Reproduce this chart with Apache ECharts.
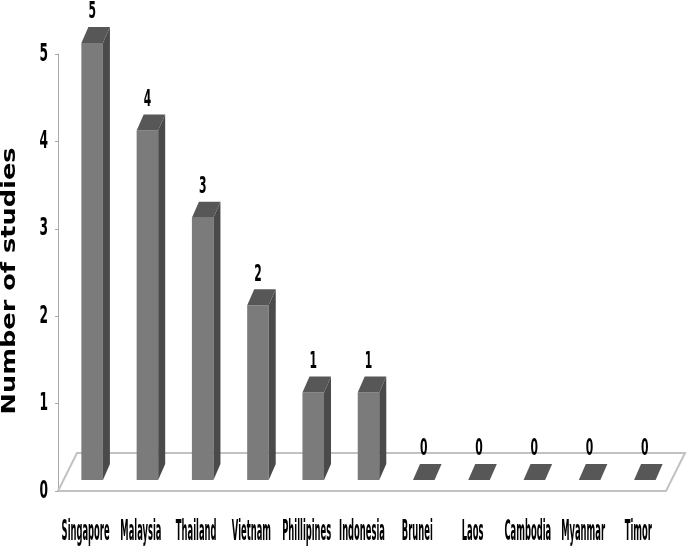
<!DOCTYPE html>
<html>
<head>
<meta charset="utf-8">
<script src="https://cdn.jsdelivr.net/npm/echarts@6/dist/echarts.min.js"></script>
<style>
  html, body { margin: 0; background: #fff; }
  #chart { width: 688px; height: 551px; }
</style>
</head>
<body>
<div id="chart"></div>
<script>
const countries = ['Singapore', 'Malaysia', 'Thailand', 'Vietnam', 'Phillipines', 'Indonesia',
  'Brunei', 'Laos', 'Cambodia', 'Myanmar', 'Timor'];
const studies = [5, 4, 3, 2, 1, 1, 0, 0, 0, 0, 0];
const yTicks = [0, 1, 2, 3, 4, 5];

const NARROW = "'DejaVu Sans Condensed', 'DejaVu Sans', sans-serif";
const depth = [7, -16];        // top / side face offset of a box
const barShift = [6.5, -11];   // boxes sit a bit behind the axis plane
const floorDepth = [19, -38];

// the original text is squashed sideways, so draw it normal and stretch it
function stretched(x, y, text, size, sx, sy, align, vAlign, weight) {
  return {
    type: 'text', x: x, y: y, scaleX: sx, scaleY: sy,
    style: {
      text: text, fontFamily: NARROW, fontSize: size, fontWeight: weight || 'normal',
      fill: '#000', align: align, verticalAlign: vAlign
    }
  };
}

function renderFloor(params, api) {
  const band = api.size([1, 0])[0];
  const first = api.coord([0, 0]);
  const last = api.coord([countries.length - 1, 0]);
  const xl = first[0] - band / 2, xr = last[0] + band / 2, y = first[1];
  const [fx, fy] = floorDepth;
  return {
    type: 'polyline',
    shape: { points: [[xl, y], [xl + fx, y + fy], [xr + fx, y + fy], [xr, y]] },
    style: { stroke: '#c2c2c2', lineWidth: 2, fill: null }
  };
}

function renderBar(params, api) {
  const idx = api.value(0);
  const val = api.value(1);
  const base = api.coord([idx, 0]);
  const top = api.coord([idx, val]);
  const band = api.size([1, 0])[0];
  const w = band * 0.39;
  const x0 = base[0] + barShift[0] - w / 2, x1 = x0 + w;
  const yb = base[1] + barShift[1], yt = top[1] + barShift[1];
  const [dx, dy] = depth;
  const kids = [];
  if (val > 0) {
    kids.push({ type: 'rect', shape: { x: x0, y: yt, width: w, height: yb - yt },
      style: { fill: '#7b7b7b' } });
    kids.push({ type: 'polygon', shape: { points: [[x1, yt], [x1 + dx, yt + dy], [x1 + dx, yb + dy], [x1, yb]] },
      style: { fill: '#4a4a4a' } });
  }
  kids.push({ type: 'polygon', shape: { points: [[x0, yt], [x0 + dx, yt + dy], [x1 + dx, yt + dy], [x1, yt]] },
    style: { fill: '#575757' } });
  kids.push(stretched(x0 + w / 2, yt - 19, String(val), 15, 0.8, 1.55, 'center', 'bottom', 'bold'));
  kids.push(stretched(base[0], base[1] + 42, countries[idx], 15, 0.62, 1.88, 'center', 'middle', 'bold'));
  return { type: 'group', children: kids };
}

function renderTick(params, api) {
  const band = api.size([1, 0])[0];
  const p = api.coord([0, api.value(1)]);
  return stretched(p[0] - band / 2 - 10, p[1], String(api.value(1)), 16, 0.85, 1.6, 'right', 'middle', 'bold');
}

const chart = echarts.init(document.getElementById('chart'));
chart.setOption({
  backgroundColor: '#fff',
  animation: false,
  grid: { left: 58, right: 22, top: 54, bottom: 60 },
  xAxis: {
    type: 'category',
    data: countries,
    axisLine: { lineStyle: { color: '#c2c2c2', width: 2 } },
    axisTick: { length: 12, lineStyle: { color: '#c8c8c8' } },
    axisLabel: { show: false }
  },
  yAxis: {
    type: 'value',
    min: 0,
    max: 5,
    interval: 1,
    axisLine: { show: true, lineStyle: { color: '#a8a8a8' } },
    axisTick: { show: true, length: 3, lineStyle: { color: '#a8a8a8' } },
    axisLabel: { show: false },
    splitLine: { show: false }
  },
  graphic: [{
    type: 'text', x: 10, y: 281, rotation: Math.PI / 2, scaleX: 1.35,
    style: {
      text: 'Number of studies', fontFamily: 'DejaVu Sans', fontWeight: 'bold', fontSize: 19,
      fill: '#000', align: 'center', verticalAlign: 'middle'
    }
  }],
  series: [
    { type: 'custom', name: 'floor', clip: false, silent: true, data: [[0, 0]], renderItem: renderFloor },
    { type: 'custom', name: 'studies', clip: false, data: studies.map((v, i) => [i, v]), renderItem: renderBar },
    { type: 'custom', name: 'ticks', clip: false, silent: true, data: yTicks.map(v => [0, v]), renderItem: renderTick }
  ]
});
</script>
</body>
</html>
